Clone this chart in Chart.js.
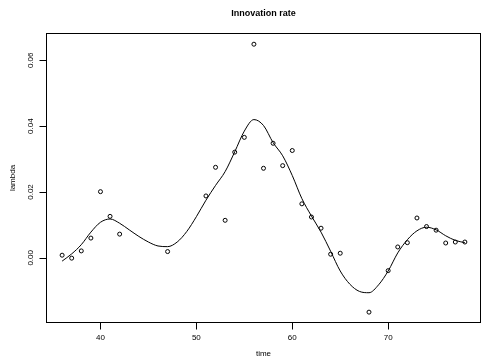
<!DOCTYPE html>
<html>
<head>
<meta charset="utf-8">
<script src="https://cdn.jsdelivr.net/npm/chart.js@4"></script>
<style>
  html, body { margin: 0; padding: 0; background: #fff; }
  canvas { display: block; }
</style>
</head>
<body>
<canvas id="chart" width="482" height="361"></canvas>
<script>
const pointTimes = [36, 37, 38, 39, 40, 41, 42, 47, 51, 52, 53, 54, 55, 56, 57, 58, 59, 60, 61, 62, 63, 64, 65, 68, 70, 71, 72, 73, 74, 75, 76, 77, 78];
const pointValues = [0.0008, -0.0001, 0.0021, 0.0060, 0.0201, 0.0126, 0.0072, 0.0019, 0.0188, 0.0275, 0.0114, 0.0321, 0.0366, 0.0649, 0.0272, 0.0348, 0.0280, 0.0326, 0.0164, 0.0124, 0.0090, 0.0011, 0.0014, -0.0165, -0.0039, 0.0033, 0.0046, 0.0121, 0.0095, 0.0084, 0.0045, 0.0048, 0.0048];

const curveTimes = [36, 37, 38, 39, 40, 41, 42, 43, 44, 45, 46, 47, 48, 49, 50, 51, 52, 53, 54, 55, 56, 57, 58, 59, 60, 61, 62, 63, 64, 65, 66, 67, 68, 69, 70, 71, 72, 73, 74, 75, 76, 77, 78];
const curveValues = [-0.0010, 0.0012, 0.0040, 0.0078, 0.0108, 0.0118, 0.0105, 0.0085, 0.0065, 0.0048, 0.0036, 0.0034, 0.0048, 0.0080, 0.0125, 0.0175, 0.0220, 0.0262, 0.0322, 0.0385, 0.0420, 0.0402, 0.0350, 0.0310, 0.0250, 0.0180, 0.0127, 0.0078, 0.0020, -0.0040, -0.0080, -0.0102, -0.0106, -0.0082, -0.0040, 0.0015, 0.0055, 0.0082, 0.0093, 0.0085, 0.0067, 0.0053, 0.0046];

const xTicks = [40, 50, 60, 70];
const yTicks = [0.00, 0.02, 0.04, 0.06];
const yTickLabels = ["0.00", "0.02", "0.04", "0.06"];

const fontFamily = "'Liberation Sans', Arial, Helvetica, sans-serif";
const ink = "#000";

const points = pointTimes.map((t, i) => ({ x: t, y: pointValues[i] }));
const curve = curveTimes.map((t, i) => ({ x: t, y: curveValues[i] }));

// R-like frame: box, axis lines between first and last tick, outward ticks,
// rotated y labels
const rStyle = {
  id: "rStyle",
  afterDraw(chart) {
    const ctx = chart.ctx;
    const a = chart.chartArea;
    const xs = chart.scales.x;
    const ys = chart.scales.y;
    const L = Math.round(a.left) + 0.5, T = Math.round(a.top) + 0.5;
    const R = Math.round(a.right) - 0.5, B = Math.round(a.bottom) - 0.5;
    ctx.save();
    ctx.strokeStyle = ink;
    ctx.lineWidth = 1;
    ctx.strokeRect(L, T, R - L, B - T);

    ctx.beginPath();
    const x0 = Math.round(xs.getPixelForValue(xTicks[0])) + 0.5;
    const x1 = Math.round(xs.getPixelForValue(xTicks[xTicks.length - 1])) + 0.5;
    ctx.moveTo(x0, B);
    ctx.lineTo(x1, B);
    xTicks.forEach((v) => {
      const px = Math.round(xs.getPixelForValue(v)) + 0.5;
      ctx.moveTo(px, B);
      ctx.lineTo(px, B + 7);
    });
    const y0 = Math.round(ys.getPixelForValue(yTicks[0])) + 0.5;
    const y1 = Math.round(ys.getPixelForValue(yTicks[yTicks.length - 1])) + 0.5;
    ctx.moveTo(L, y0);
    ctx.lineTo(L, y1);
    yTicks.forEach((v) => {
      const py = Math.round(ys.getPixelForValue(v)) + 0.5;
      ctx.moveTo(L, py);
      ctx.lineTo(L - 7, py);
    });
    ctx.stroke();

    ctx.fillStyle = ink;
    ctx.font = "8px " + fontFamily;
    ctx.textAlign = "center";
    ctx.textBaseline = "middle";
    yTicks.forEach((v, i) => {
      ctx.save();
      ctx.translate(31, ys.getPixelForValue(v));
      ctx.rotate(-Math.PI / 2);
      ctx.fillText(yTickLabels[i], 0, 0);
      ctx.restore();
    });
    ctx.restore();
  }
};

new Chart(document.getElementById("chart"), {
  type: "scatter",
  data: {
    datasets: [
      {
        data: curve,
        showLine: true,
        pointRadius: 0,
        borderColor: ink,
        borderWidth: 1,
        cubicInterpolationMode: "monotone"
      },
      {
        data: points,
        pointRadius: 2,
        pointBorderWidth: 1,
        pointBorderColor: ink,
        pointBackgroundColor: "rgba(0,0,0,0)"
      }
    ]
  },
  options: {
    responsive: false,
    animation: false,
    devicePixelRatio: 1,
    layout: { autoPadding: false, padding: { right: 1 } },
    plugins: {
      legend: { display: false },
      tooltip: { enabled: false },
      title: {
        display: true,
        text: "Innovation rate",
        fullSize: false,
        color: ink,
        font: { family: fontFamily, size: 9, weight: "bold" },
        padding: { top: 8, bottom: 14.2 }
      }
    },
    scales: {
      x: {
        type: "linear",
        min: 34.32,
        max: 79.68,
        afterBuildTicks: (s) => { s.ticks = xTicks.map((v) => ({ value: v })); },
        afterFit: (s) => { s.height = 38; s.paddingLeft = 0; s.paddingRight = 0; },
        grid: { display: false, drawTicks: false, tickLength: 0 },
        border: { display: false },
        ticks: {
          color: ink,
          padding: 10,
          maxRotation: 0,
          font: { family: fontFamily, size: 8 },
          callback: (v) => String(v)
        },
        title: {
          display: true,
          text: "time",
          color: ink,
          font: { family: fontFamily, size: 8 },
          padding: { top: 3, bottom: 2 }
        }
      },
      y: {
        type: "linear",
        min: -0.0198,
        max: 0.0683,
        afterBuildTicks: (s) => { s.ticks = yTicks.map((v) => ({ value: v })); },
        afterFit: (s) => { s.width = 46; s.paddingTop = 0; s.paddingBottom = 0; },
        grid: { display: false },
        border: { display: false },
        ticks: { display: false },
        title: {
          display: true,
          text: "lambda",
          color: ink,
          font: { family: fontFamily, size: 8 },
          padding: { top: 8, bottom: 0 }
        }
      }
    }
  },
  plugins: [rStyle]
});
</script>
</body>
</html>
